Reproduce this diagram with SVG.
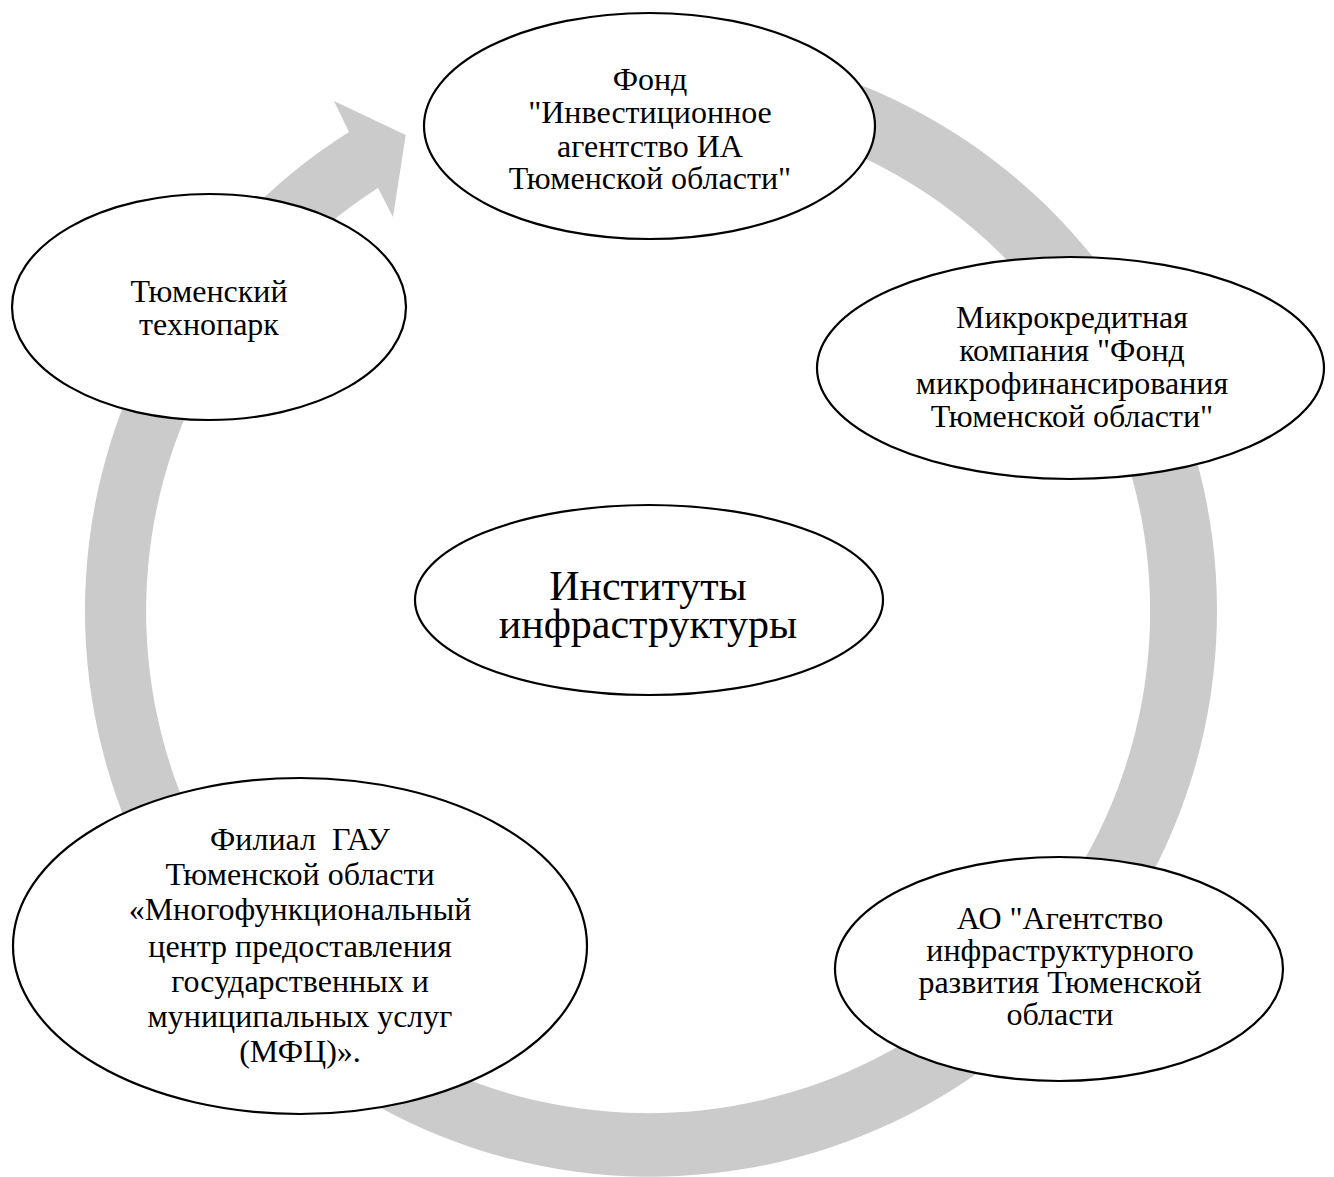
<svg xmlns="http://www.w3.org/2000/svg" width="1334" height="1177" viewBox="0 0 1334 1177">
<style>
.node{fill:#ffffff;stroke:#000000;stroke-width:2.2}
.t{font-family:"Liberation Serif","Times New Roman",serif;font-size:32px;fill:#000000;text-anchor:middle}
.big{font-size:42px}
.ring{fill:#cbcbcb;stroke:none}
</style>
<rect width="1334" height="1177" fill="#ffffff"/>
<g id="connectors">
<path class="ring" d="M570.2,50.5 A566,566 0 1 1 349,132 L334,101 L405.7,135 L393,217 L378,188 A502,502 0 1 0 579.1,113.9 Z"/>
</g>
<g id="node-fond">
<ellipse class="node" cx="649.5" cy="126" rx="225.5" ry="113"/>
<text class="t" x="650" y="90">Фонд</text>
<text class="t" x="650" y="123">"Инвестиционное</text>
<text class="t" x="650" y="157">агентство ИА</text>
<text class="t" x="650" y="189">Тюменской области"</text>
</g>
<g id="node-technopark">
<ellipse class="node" cx="209" cy="307" rx="197" ry="113"/>
<text class="t" x="209" y="302">Тюменский</text>
<text class="t" x="209" y="335">технопарк</text>
</g>
<g id="node-micro">
<ellipse class="node" cx="1070.5" cy="368" rx="253.5" ry="111"/>
<text class="t" x="1072" y="328">Микрокредитная</text>
<text class="t" x="1072" y="361">компания "Фонд</text>
<text class="t" x="1072" y="394">микрофинансирования</text>
<text class="t" x="1072" y="427">Тюменской области"</text>
</g>
<g id="node-center">
<ellipse class="node" cx="649" cy="600" rx="234" ry="95"/>
<text class="t big" x="648" y="600">Институты</text>
<text class="t big" x="648" y="638">инфраструктуры</text>
</g>
<g id="node-mfc">
<ellipse class="node" cx="300" cy="946" rx="287" ry="168"/>
<text class="t" x="300" y="850" style="white-space:pre">Филиал  ГАУ</text>
<text class="t" x="300" y="885">Тюменской области</text>
<text class="t" x="300" y="920">«Многофункциональный</text>
<text class="t" x="300" y="957">центр предоставления</text>
<text class="t" x="300" y="992">государственных и</text>
<text class="t" x="300" y="1027">муниципальных услуг</text>
<text class="t" x="300" y="1062">(МФЦ)».</text>
</g>
<g id="node-ao">
<ellipse class="node" cx="1059" cy="969" rx="224" ry="112"/>
<text class="t" x="1060" y="929">АО "Агентство</text>
<text class="t" x="1060" y="961">инфраструктурного</text>
<text class="t" x="1060" y="993">развития Тюменской</text>
<text class="t" x="1060" y="1025">области</text>
</g>
</svg>
